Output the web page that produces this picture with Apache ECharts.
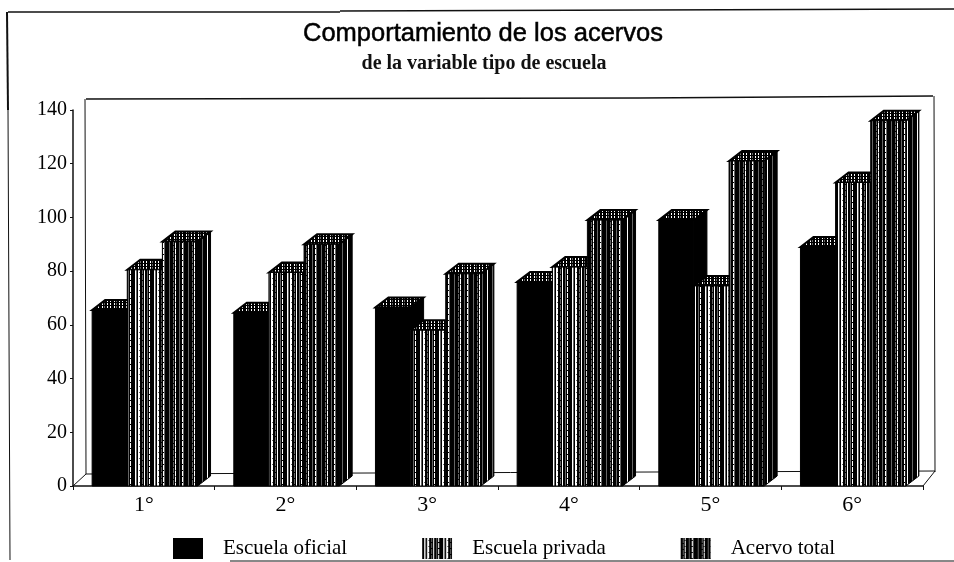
<!DOCTYPE html>
<html>
<head>
<meta charset="utf-8">
<title>Comportamiento de los acervos</title>
<style>html,body{margin:0;padding:0;background:#fff}</style>
</head>
<body>
<div id="main" style="width:954px;height:562px;"></div>
<script src="https://cdn.jsdelivr.net/npm/echarts@6/dist/echarts.min.js"></script>
<script>
var categories = ['1°', '2°', '3°', '4°', '5°', '6°'];
var oficial = [65.5, 64.5, 66.5, 76, 99, 89];
var privada = [80.5, 79.5, 58, 81.5, 74.5, 113];
var total = [91, 90, 79, 99, 121, 136];
var seriesNames = ['Escuela oficial', 'Escuela privada', 'Acervo total'];

// rayas verticales: k negro, g gris, w blanco
function stripes(rows) {
    var colors = {k: '#000', g: '#666', w: '#fff'};
    var c = document.createElement('canvas');
    c.width = rows[0].length;
    c.height = rows.length;
    var ctx = c.getContext('2d');
    rows.forEach(function (row, y) {
        for (var x = 0; x < row.length; x++) {
            ctx.fillStyle = colors[row[x]];
            ctx.fillRect(x, y, 1, 1);
        }
    });
    return {image: c, repeat: 'repeat'};
}
var solid = '#000';
var lightStripes = stripes([
    'kkwgkwwkkgkwkkgkwkk',
    'kkwgkwwkkgkwkkgkwkk',
    'kkwgkwgkkgkwkkgkwkk',
    'kkwgkwwkkgkwkkgkwkk',
    'kkwgkwwkkkkwkkgkkkk',
    'kkwgkwwkkgkwkkgkwkk'
]);
var darkStripes = stripes([
    'kkgkwkkkgkkwgkkkkgk',
    'kkgkwkkkgkkwgkkkkgk',
    'kkgkgkkkgkkkgkkkkgk',
    'kkgkwkkkgkkwgkkkkgk',
    'kkgkwkkkgkkwgkkkkgk',
    'kkkkwkkkgkkwgkkkkgk'
]);
var topStripes = stripes(['kkwkkkwkgkkw', 'kkwkkkwkgkkw', 'kkkkkkkkkkkk']);
var sideStripes = stripes(['kkgkkkkwkk']);

var barRatio = 0.248, depthX = 13, depthY = 10;

function makeBars(index, front, top, side) {
    return function (params, api) {
        var base = api.coord([api.value(0), 0]);
        var head = api.coord([api.value(0), api.value(1)]);
        var w = api.size([1, 0])[0] * barRatio;
        var x0 = base[0] + (index - 1.5) * w + 1;
        var x1 = x0 + w;
        var y0 = head[1], y1 = base[1];
        return {
            type: 'group',
            children: [
                {type: 'polygon', shape: {points: [[x1, y0], [x1 + depthX, y0 - depthY], [x1 + depthX, y1 - depthY], [x1, y1]]},
                    style: {fill: side, stroke: '#000', lineWidth: 1}},
                {type: 'polygon', shape: {points: [[x0, y0], [x0 + depthX, y0 - depthY], [x1 + depthX, y0 - depthY], [x1, y0]]},
                    style: {fill: top, stroke: '#000', lineWidth: 2}},
                {type: 'rect', shape: {x: x0, y: y0, width: w, height: y1 - y0},
                    style: {fill: front, stroke: '#000', lineWidth: 1}}
            ]
        };
    };
}

function toPairs(values) {
    return values.map(function (v, i) { return [i, v]; });
}

function line(x1, y1, x2, y2, w) {
    return {type: 'line', shape: {x1: x1, y1: y1, x2: x2, y2: y2}, style: {stroke: '#111', lineWidth: w || 1.5}};
}

var myChart = echarts.init(document.getElementById('main'));
var serifFont = '"Liberation Serif", serif';

myChart.setOption({
    animation: false,
    backgroundColor: '#fff',
    title: [
        {text: 'Comportamiento de los acervos', left: 478, top: 16, textAlign: 'center',
            textStyle: {fontFamily: '"Liberation Sans", sans-serif', fontSize: 25.5, fontWeight: 'normal', color: '#000',
                textBorderColor: '#000', textBorderWidth: 0.5}},
        {text: 'de la variable tipo de escuela', left: 479, top: 49, textAlign: 'center',
            textStyle: {fontFamily: serifFont, fontSize: 20, fontWeight: 'bold', color: '#111'}}
    ],
    legend: {
        left: 168, top: 533, itemWidth: 30, itemHeight: 21, itemGap: 75, icon: 'rect',
        data: [
            {name: seriesNames[0], itemStyle: {color: solid}},
            {name: seriesNames[1], itemStyle: {color: lightStripes}},
            {name: seriesNames[2], itemStyle: {color: darkStripes}}
        ],
        selectedMode: false,
        textStyle: {fontFamily: serifFont, fontSize: 21, color: '#000', padding: [0, 0, 4, 15]}
    },
    grid: {left: 73, top: 110, width: 850, height: 376},
    xAxis: {
        type: 'category', data: categories,
        axisLine: {lineStyle: {color: '#111', width: 1.5}},
        axisTick: {show: true, alignWithLabel: false, length: 4, lineStyle: {color: '#111'}},
        axisLabel: {fontFamily: serifFont, fontSize: 22, color: '#000', margin: 8},
        splitLine: {show: false}
    },
    yAxis: {
        type: 'value', min: 0, max: 140, interval: 20,
        axisLine: {show: true, lineStyle: {color: '#111', width: 1.5}},
        axisTick: {show: true, length: 3, lineStyle: {color: '#111'}},
        axisLabel: {fontFamily: serifFont, fontSize: 20, color: '#000', margin: 6},
        splitLine: {show: false}
    },
    series: [
        {type: 'custom', name: seriesNames[0], data: toPairs(oficial), encode: {x: 0, y: 1}, clip: false,
            itemStyle: {color: solid}, renderItem: makeBars(0, solid, topStripes, solid)},
        {type: 'custom', name: seriesNames[1], data: toPairs(privada), encode: {x: 0, y: 1}, clip: false,
            itemStyle: {color: lightStripes}, renderItem: makeBars(1, lightStripes, topStripes, sideStripes)},
        {type: 'custom', name: seriesNames[2], data: toPairs(total), encode: {x: 0, y: 1}, clip: false,
            itemStyle: {color: darkStripes}, renderItem: makeBars(2, darkStripes, topStripes, sideStripes)}
    ],
    graphic: {
        elements: [
            // marco exterior
            line(8, 12, 340, 12), line(340, 11, 954, 9), line(7, 12, 8, 110, 2), line(8, 110, 10, 560, 1),
            line(230, 561, 954, 561, 1),
            // pared de fondo y piso
            line(86, 99, 640, 98), line(640, 98, 933, 96), line(85, 99, 86, 474, 1), line(934, 96, 935, 472, 1),
            line(86, 474, 935, 471, 1), line(73, 486, 86, 474, 1), line(923, 486, 935, 471, 1)
        ]
    }
});
</script>
</body>
</html>
